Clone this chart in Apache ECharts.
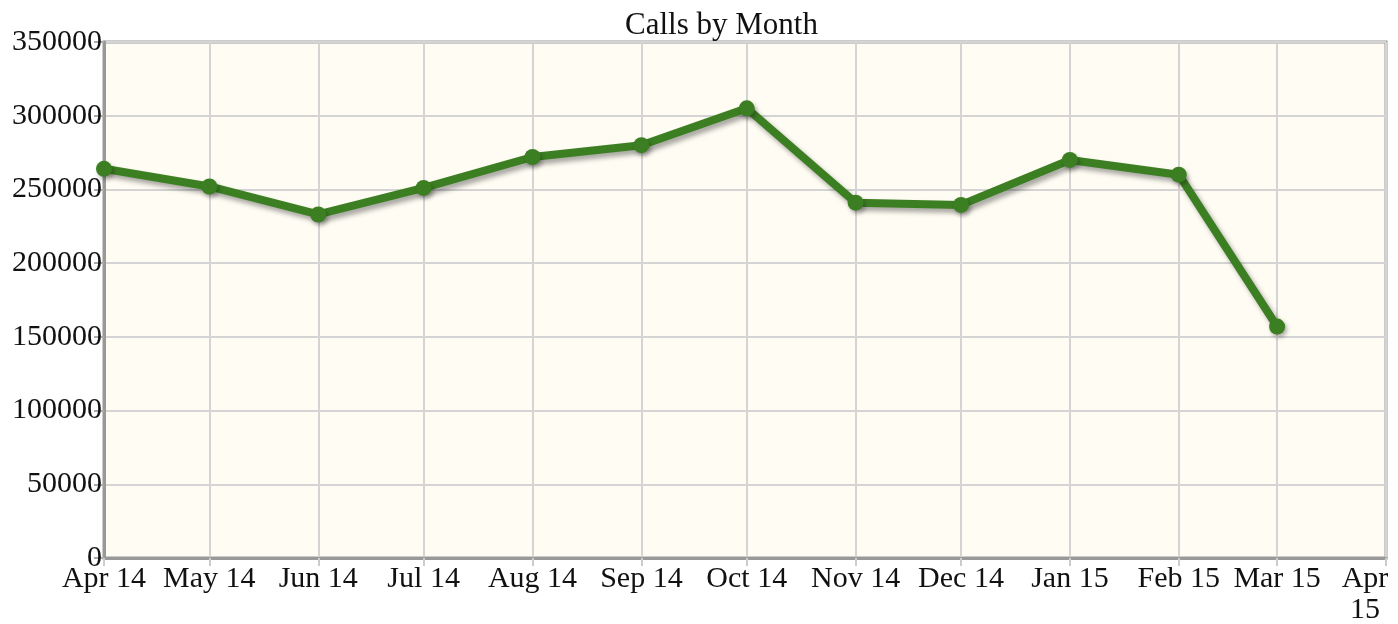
<!DOCTYPE html>
<html>
<head>
<meta charset="utf-8">
<script src="https://cdn.jsdelivr.net/npm/echarts@6/dist/echarts.min.js"></script>
<style>
  html, body { margin: 0; padding: 0; background: #fff; }
  #chart { width: 1398px; height: 624px; }
</style>
</head>
<body>
<div id="chart"></div>
<script>
// month starts (year, month index) and calls per month
const months = [
  [2014, 3], [2014, 4], [2014, 5], [2014, 6], [2014, 7], [2014, 8],
  [2014, 9], [2014, 10], [2014, 11], [2015, 0], [2015, 1], [2015, 2]
]
const calls = [264000, 252000, 233000, 251000, 272000, 280000, 305000, 241000, 239500, 270000, 260000, 157000]
const monthNames = ['Jan', 'Feb', 'Mar', 'Apr', 'May', 'Jun', 'Jul', 'Aug', 'Sep', 'Oct', 'Nov', 'Dec']

const axisStart = new Date(2014, 3, 1).getTime()
const axisEnd = new Date(2015, 3, 1).getTime()
const day = 86400000

const font = '"Liberation Serif", "Times New Roman", serif'

const chart = echarts.init(document.getElementById('chart'))
chart.setOption({
  animation: false,
  backgroundColor: '#fff',
  title: {
    text: 'Calls by Month',
    left: 620,
    top: 5,
    textStyle: {
      fontFamily: font,
      fontWeight: 'normal',
      fontSize: 31,
      color: '#111'
    }
  },
  grid: {
    left: 104,
    right: 12,
    top: 42,
    bottom: 66,
    outerBoundsMode: 'none',
    containLabel: false,
    show: true,
    backgroundColor: '#fffcf4',
    borderColor: '#999',
    borderWidth: 3
  },
  xAxis: {
    type: 'time',
    min: axisStart,
    max: axisEnd,
    minInterval: 28 * day,
    maxInterval: 31 * day,
    splitNumber: 12,
    axisLine: { lineStyle: { color: '#999', width: 3 } },
    axisTick: { show: true, length: 8, lineStyle: { color: '#ccc', width: 2 } },
    splitLine: { show: true, lineStyle: { color: '#d4d4d4', width: 2 } },
    axisLabel: {
      fontFamily: font,
      fontSize: 30,
      color: '#111',
      margin: 6,
      hideOverlap: false,
      showMinLabel: true,
      showMaxLabel: true,
      lineHeight: 31,
      rich: {
        last: { fontFamily: font, fontSize: 30, color: '#111', lineHeight: 31, padding: [0, 42, 0, 0] }
      },
      formatter: function (value) {
        const d = new Date(value)
        const yy = String(d.getFullYear()).slice(2)
        const m = monthNames[d.getMonth()]
        if (value >= axisEnd) {
          return '{last|' + m + '}\n{last|' + yy + '}'
        }
        return m + ' ' + yy
      }
    }
  },
  yAxis: {
    type: 'value',
    min: 0,
    max: 350000,
    interval: 50000,
    axisLine: { show: true, lineStyle: { color: '#999', width: 3 } },
    axisTick: { show: true, length: 10, lineStyle: { color: '#aaa', width: 2 } },
    splitLine: { show: true, lineStyle: { color: '#d4d4d4', width: 2 } },
    axisLabel: {
      fontFamily: font,
      fontSize: 30,
      color: '#111',
      margin: 2,
      formatter: function (v) { return String(v) }
    }
  },
  series: [{
    type: 'line',
    data: months.map((m, i) => [new Date(m[0], m[1], 1).getTime(), calls[i]]),
    symbol: 'circle',
    symbolSize: 16,
    clip: false,
    lineStyle: {
      color: '#3c7f22',
      width: 8,
      shadowColor: 'rgba(0,0,0,0.35)',
      shadowBlur: 5,
      shadowOffsetX: 3,
      shadowOffsetY: 4
    },
    itemStyle: {
      color: '#3c7f22',
      shadowColor: 'rgba(0,0,0,0.3)',
      shadowBlur: 4,
      shadowOffsetX: 2,
      shadowOffsetY: 3
    }
  }]
})
</script>
</body>
</html>
